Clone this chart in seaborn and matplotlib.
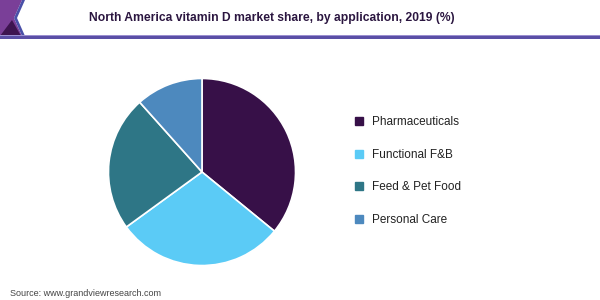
import matplotlib
matplotlib.use("Agg")
import matplotlib.pyplot as plt
from matplotlib.patches import Polygon, Rectangle
from matplotlib.lines import Line2D
import seaborn as sns

categories = ["Pharmaceuticals", "Functional F&B", "Feed & Pet Food", "Personal Care"]
shares = [35.9, 29.1, 23.4, 11.6]
colors = ["#371048", "#5bcbf6", "#2e7686", "#4d89be"]
title = "North America vitamin D market share, by application, 2019 (%)"
source = "Source: www.grandviewresearch.com"

sns.set_theme(style="white")
plt.rcParams['font.family'] = ['Liberation Sans', 'DejaVu Sans']

W, H = 600, 300
fig = plt.figure(figsize=(6, 3), dpi=100)
fig.patch.set_facecolor("white")

def fx(x): return x / W
def fy(y): return 1 - y / H

# header decoration
fig.patches.append(Polygon([(fx(0), fy(0)), (fx(22), fy(0)), (fx(14), fy(18)), (fx(22), fy(36)), (fx(0), fy(36))],
                           closed=True, transform=fig.transFigure, facecolor="#7a3f98", edgecolor="none"))
fig.patches.append(Polygon([(fx(22), fy(0)), (fx(25), fy(0)), (fx(17), fy(18)), (fx(25), fy(36)), (fx(22), fy(36)), (fx(14), fy(18))],
                           closed=True, transform=fig.transFigure, facecolor="#4a50a8", edgecolor="none"))
fig.patches.append(Polygon([(fx(0), fy(36)), (fx(12), fy(20)), (fx(21), fy(36))],
                           closed=True, transform=fig.transFigure, facecolor="#3d1450", edgecolor="none"))
fig.patches.append(Rectangle((fx(0), fy(38.5)), 1, 2.5 / H, transform=fig.transFigure,
                             facecolor="#5a4fa6", edgecolor="none"))
fig.patches.append(Rectangle((fx(0), fy(36)), 1, 1 / H, transform=fig.transFigure,
                             facecolor="#9a8fd0", edgecolor="none"))

fig.text(fx(271.5), fy(18), title, ha="center", va="center", fontsize=8.7, fontweight="bold", color="#2b1640")

# pie
cx, cy, r = 202, 172, 94
ax = fig.add_axes([fx(cx - r), fy(cy + r), 2 * r / W, 2 * r / H])
ax.pie(shares, colors=colors, startangle=90, counterclock=False,
       wedgeprops=dict(edgecolor="white", linewidth=1.2))
ax.set_xlim(-1.005, 1.005)
ax.set_ylim(-1.005, 1.005)
ax.set_aspect("equal")
ax.axis("off")

# legend
handles = [Line2D([0], [0], marker="s", linestyle="none", markersize=5.5,
                  markerfacecolor=c, markeredgecolor=c) for c in colors]
fig.legend(handles, categories, loc="upper left", bbox_to_anchor=(fx(342), fy(105.5)),
           frameon=False, fontsize=8.5, labelspacing=1.75, handletextpad=0.6,
           handlelength=1.0, labelcolor="#222222")

fig.text(fx(10), fy(294), source, ha="left", va="center", fontsize=6.5, color="#444444")

fig.savefig("out.png", dpi=100, facecolor="white")
